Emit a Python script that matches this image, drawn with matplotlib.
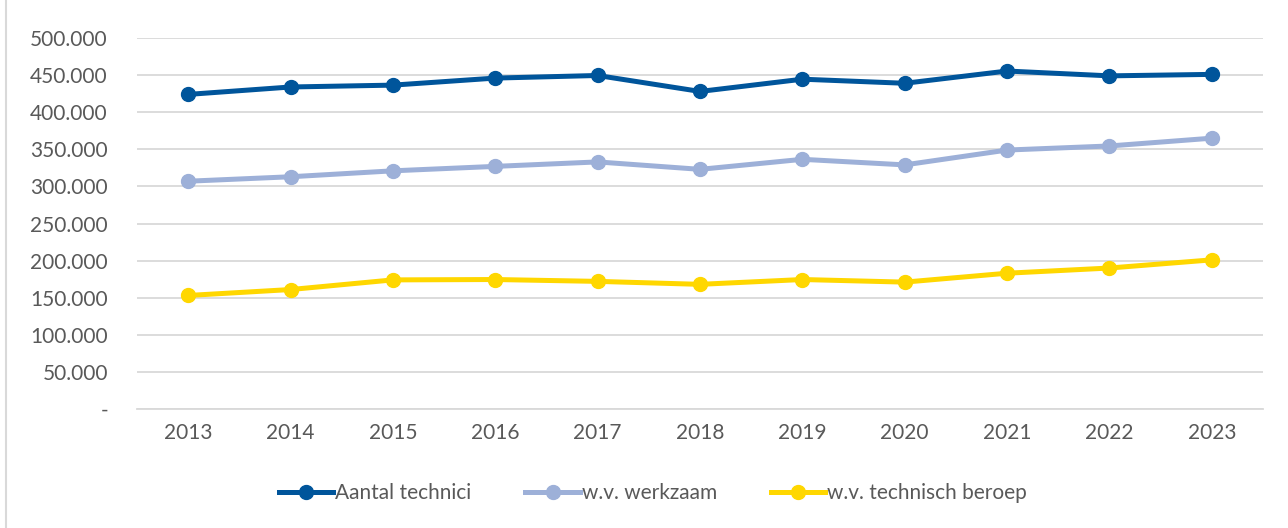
import matplotlib
matplotlib.use('Agg')
import matplotlib.pyplot as plt
from matplotlib.ticker import FuncFormatter

years = ['2013', '2014', '2015', '2016', '2017', '2018', '2019', '2020', '2021', '2022', '2023']
aantal_technici = [424000, 434000, 436500, 446000, 449500, 428000, 444500, 439000, 455500, 449000, 451000]
werkzaam = [307000, 313000, 321000, 327000, 333000, 323000, 336500, 329000, 349000, 354500, 365000]
technisch_beroep = [153000, 161000, 174000, 174500, 172000, 168000, 174500, 171000, 183000, 190000, 201000]

plt.rcParams['font.family'] = ['Lato', 'DejaVu Sans']
grey = '#595959'

fig = plt.figure(figsize=(12.88, 5.28), dpi=100)
ax = fig.add_axes([0.1064, 0.2254, 0.8742, 0.7026])

x = list(range(len(years)))
ax.plot(x, aantal_technici, color='#00559B', lw=3.6, marker='o', ms=10, label='Aantal technici')
ax.plot(x, werkzaam, color='#9DB0D8', lw=3.6, marker='o', ms=10, label='w.v. werkzaam')
ax.plot(x, technisch_beroep, color='#FFD700', lw=3.6, marker='o', ms=10, label='w.v. technisch beroep')

ax.set_xlim(-0.5, len(years) - 0.5)
ax.set_ylim(0, 500000)
ax.set_yticks(range(0, 500001, 50000))
ax.yaxis.set_major_formatter(FuncFormatter(
    lambda v, p: '-' if v == 0 else f'{int(v):,}'.replace(',', '.')))
ax.set_xticks(x)
ax.set_xticklabels(years)
ax.grid(axis='y', color='#D9D9D9', lw=1.3)
ax.set_axisbelow(True)
for s in ['top', 'right', 'left']:
    ax.spines[s].set_visible(False)
ax.spines['bottom'].set_color('#D9D9D9')
ax.spines['bottom'].set_linewidth(1.3)
ax.tick_params(axis='both', length=0, labelsize=15, colors=grey, pad=10)
ax.tick_params(axis='y', pad=21)

leg = fig.legend(loc='center', bbox_to_anchor=(0.507, 0.066), ncol=3, frameon=False,
                 fontsize=15, handlelength=2.6, handletextpad=0.1, columnspacing=2.6)
for t in leg.get_texts():
    t.set_color(grey)

fig.patches.append(plt.Rectangle((0.005, -0.01), 1.1, 1.02, transform=fig.transFigure,
                                 fill=False, edgecolor='#D9D9D9', lw=1.5))

fig.savefig('out.png', dpi=100)
